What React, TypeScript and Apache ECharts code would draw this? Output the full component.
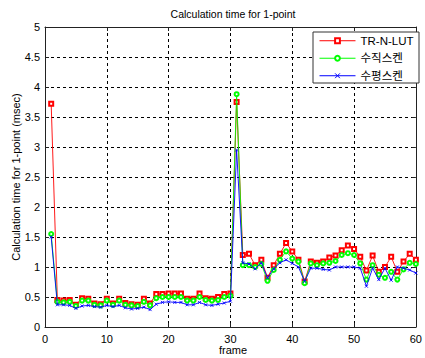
import React, { useEffect, useRef } from "react";
import * as echarts from "echarts";

const frames = [
  1, 2, 3, 4, 5, 6, 7, 8, 9, 10, 11, 12, 13, 14, 15, 16, 17, 18, 19, 20,
  21, 22, 23, 24, 25, 26, 27, 28, 29, 30, 31, 32, 33, 34, 35, 36, 37, 38, 39, 40,
  41, 42, 43, 44, 45, 46, 47, 48, 49, 50, 51, 52, 53, 54, 55, 56, 57, 58, 59, 60,
];

const trnLut = [
  3.72, 0.45, 0.44, 0.45, 0.37, 0.48, 0.47, 0.39, 0.38, 0.47,
  0.39, 0.47, 0.4, 0.38, 0.37, 0.47, 0.39, 0.55, 0.55, 0.56,
  0.56, 0.56, 0.47, 0.47, 0.56, 0.48, 0.47, 0.5, 0.55, 0.56,
  3.75, 1.2, 1.22, 1.03, 1.12, 0.82, 1.03, 1.22, 1.4, 1.26,
  1.12, 0.76, 1.09, 1.07, 1.09, 1.16, 1.19, 1.28, 1.36, 1.3,
  1.17, 0.94, 1.19, 0.92, 1.0, 1.17, 0.92, 1.09, 1.22, 1.12,
];

const vertScan = [
  1.55, 0.42, 0.41, 0.42, 0.35, 0.44, 0.44, 0.37, 0.36, 0.44,
  0.37, 0.44, 0.37, 0.36, 0.35, 0.42, 0.36, 0.48, 0.5, 0.5,
  0.5, 0.5, 0.44, 0.44, 0.5, 0.45, 0.44, 0.45, 0.5, 0.52,
  3.88, 1.03, 1.03, 1.0, 1.05, 0.77, 0.95, 1.12, 1.26, 1.14,
  1.09, 0.73, 1.06, 1.03, 1.06, 1.07, 1.1, 1.2, 1.23, 1.2,
  1.06, 0.79, 1.03, 0.87, 0.82, 0.92, 0.79, 0.96, 1.07, 1.05,
];

const horizScan = [
  1.5, 0.37, 0.37, 0.36, 0.31, 0.35, 0.36, 0.34, 0.33, 0.36,
  0.34, 0.36, 0.32, 0.3, 0.31, 0.33, 0.29, 0.38, 0.41, 0.42,
  0.41, 0.41, 0.37, 0.37, 0.41, 0.37, 0.36, 0.38, 0.4, 0.43,
  2.95, 1.07, 1.05, 0.97, 1.07, 0.82, 0.97, 1.07, 1.12, 1.06,
  1.0, 0.76, 0.98, 0.98, 0.96, 0.95, 1.0, 1.0, 1.0, 1.0,
  0.98, 0.68, 0.98, 0.79, 0.98, 0.78, 1.0, 0.98, 0.95, 0.9,
];

const seriesNames = ["TR-N-LUT", "수직스켄", "수평스켄"];
const titleText = "Calculation time for 1-point";
const yAxisTitle = "Calculation time for 1-point (msec)";
const xAxisTitle = "frame";

const FONT = "'Liberation Sans', Arial, 'Noto Sans CJK KR', sans-serif";

export default function App() {
  const ref = useRef<HTMLDivElement>(null);

  useEffect(() => {
    if (!ref.current) return;
    const chart = echarts.init(ref.current, undefined, { renderer: "svg" });
    const pairs = (vals: number[]) => frames.map((f, i) => [f, vals[i]]);
    const gridLeft = 45;
    const gridRight = 4;
    const gridTop = 27;
    const gridBottom = 31;
    const plotCenterX = gridLeft + (425 - gridLeft - gridRight) / 2;
    const plotCenterY = gridTop + (358 - gridTop - gridBottom) / 2;

    const axisLineStyle = { color: "#222", width: 1 };
    chart.setOption({
      animation: false,
      backgroundColor: "#fff",
      textStyle: { fontFamily: FONT },
      grid: {
        left: gridLeft,
        right: gridRight,
        top: gridTop,
        bottom: gridBottom,
        containLabel: false,
      },
      xAxis: [
        {
          type: "value",
          min: 0,
          max: 60,
          interval: 10,
          position: "bottom",
          axisLine: { show: true, onZero: false, lineStyle: axisLineStyle },
          axisTick: { show: true, inside: true, length: 4, lineStyle: axisLineStyle },
          axisLabel: { color: "#000", fontSize: 11, margin: 6, fontFamily: FONT },
          splitLine: { show: true, lineStyle: { color: "#000", type: [3, 3], width: 1 } },
        },
        {
          type: "value",
          min: 0,
          max: 60,
          interval: 10,
          position: "top",
          axisLine: { show: true, onZero: false, lineStyle: axisLineStyle },
          axisTick: { show: true, inside: true, length: 4, lineStyle: axisLineStyle },
          axisLabel: { show: false },
          splitLine: { show: false },
        },
      ],
      yAxis: [
        {
          type: "value",
          min: 0,
          max: 5,
          interval: 0.5,
          position: "left",
          axisLine: { show: true, onZero: false, lineStyle: axisLineStyle },
          axisTick: { show: true, inside: true, length: 4, lineStyle: axisLineStyle },
          axisLabel: { color: "#000", fontSize: 11, margin: 5, fontFamily: FONT },
          splitLine: { show: true, lineStyle: { color: "#000", type: [3, 3], width: 1 } },
        },
        {
          type: "value",
          min: 0,
          max: 5,
          interval: 0.5,
          position: "right",
          axisLine: { show: true, onZero: false, lineStyle: axisLineStyle },
          axisTick: { show: true, inside: true, length: 4, lineStyle: axisLineStyle },
          axisLabel: { show: false },
          splitLine: { show: false },
        },
      ],
      legend: {
        show: true,
        orient: "vertical",
        left: 319,
        top: 35,
        itemWidth: 36,
        itemHeight: 6,
        itemGap: 6,
        padding: 0,
        z: 10,
        lineStyle: { width: 1 },
        itemStyle: { borderWidth: 1 },
        textStyle: { fontSize: 11.5, color: "#000", fontFamily: FONT },
        data: seriesNames,
      },
      graphic: [
        {
          type: "rect",
          z: 8,
          shape: { x: 313, y: 32, width: 106, height: 51 },
          style: { fill: "#fff", stroke: "#333", lineWidth: 1 },
        },
        {
          type: "text",
          x: plotCenterX,
          y: 14,
          style: {
            text: titleText,
            align: "center",
            verticalAlign: "middle",
            fontSize: 10.5,
            fontFamily: FONT,
            fill: "#000",
          },
        },
        {
          type: "text",
          x: plotCenterX,
          y: 350,
          style: {
            text: xAxisTitle,
            align: "center",
            verticalAlign: "middle",
            fontSize: 11,
            fontFamily: FONT,
            fill: "#000",
          },
        },
        {
          type: "text",
          x: 16,
          y: plotCenterY,
          rotation: Math.PI / 2,
          style: {
            text: yAxisTitle,
            align: "center",
            verticalAlign: "middle",
            fontSize: 11,
            fontFamily: FONT,
            fill: "#000",
          },
        },
      ],
      series: [
        {
          name: seriesNames[0],
          type: "line",
          data: pairs(trnLut),
          symbol: "emptyRect",
          symbolSize: 4,
          lineStyle: { color: "#ff0000", width: 0.9 },
          itemStyle: { color: "#ff0000", borderWidth: 0.9 },
          z: 2,
        },
        {
          name: seriesNames[1],
          type: "line",
          data: pairs(vertScan),
          symbol: "emptyCircle",
          symbolSize: 4,
          lineStyle: { color: "#00ff00", width: 0.9 },
          itemStyle: { color: "#00ff00", borderWidth: 0.9 },
          z: 3,
        },
        {
          name: seriesNames[2],
          type: "line",
          data: pairs(horizScan),
          symbol: "path://M0,0L10,10M10,0L0,10",
          symbolSize: 3,
          lineStyle: { color: "#0000ff", width: 0.9 },
          itemStyle: { color: "#0000ff", borderColor: "#0000ff", borderWidth: 0.9 },
          z: 4,
        },
      ],
    });
    return () => chart.dispose();
  }, []);

  return (
    <div
      ref={ref}
      style={{ position: "fixed", left: 0, top: 0, width: 425, height: 358 }}
    />
  );
}
